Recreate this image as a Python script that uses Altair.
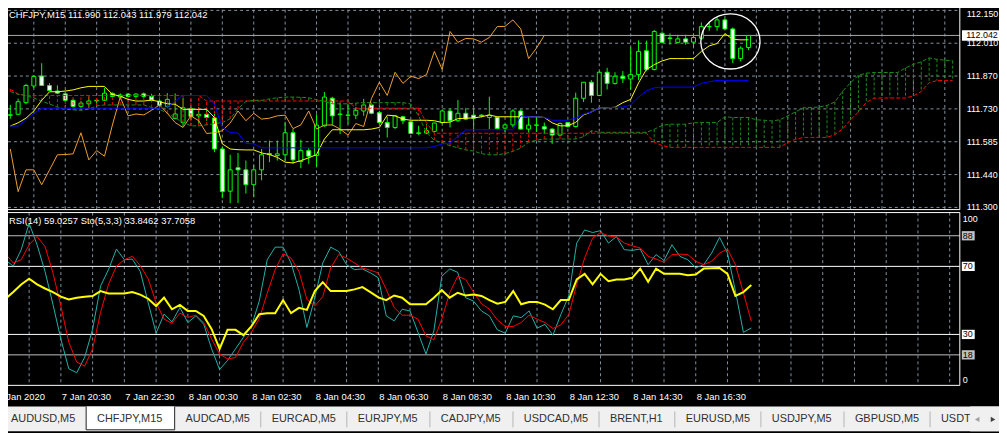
import altair as alt
import pandas as pd

# ------------------------------------------------------------------ data
symbol_title = "CHFJPY,M15"
ohlc_title = "111.990 112.043 111.979 112.042"
osc_title = "RSI(14) 59.0257  Sto(5,3,3) 33.8462 37.7058"

bar_open = [111.697, 111.702, 111.752, 111.824, 111.867, 111.826, 111.802, 111.790, 111.762, 111.736,
            111.747, 111.760, 111.762, 111.792, 111.776, 111.789, 111.779, 111.790, 111.779, 111.759,
            111.736, 111.683, 111.666, 111.726, 111.695, 111.702, 111.686, 111.552, 111.370, 111.471,
            111.462, 111.398, 111.462, 111.532, 111.524, 111.527, 111.622, 111.498, 111.545, 111.524,
            111.652, 111.771, 111.701, 111.697, 111.698, 111.716, 111.742, 111.709, 111.666, 111.645,
            111.691, 111.669, 111.619, 111.621, 111.628, 111.666, 111.716, 111.674, 111.706, 111.698,
            111.698, 111.688, 111.688, 111.642, 111.656, 111.716, 111.638, 111.654, 111.648, 111.638,
            111.612, 111.666, 111.649, 111.771, 111.840, 111.783, 111.883, 111.835, 111.866, 111.854,
            111.873, 111.976, 111.895, 112.051, 112.031, 112.012, 112.027, 112.013, 112.030, 112.079,
            112.080, 112.109, 112.070, 111.942, 111.990]
bar_high = [111.742, 111.769, 111.833, 111.870, 111.922, 111.836, 111.827, 111.799, 111.769, 111.759,
            111.779, 111.769, 111.816, 111.796, 111.792, 111.792, 111.792, 111.796, 111.790, 111.766,
            111.793, 111.792, 111.773, 111.733, 111.733, 111.725, 111.703, 111.562, 111.527, 111.535,
            111.502, 111.484, 111.552, 111.588, 111.588, 111.669, 111.638, 111.592, 111.557, 111.702,
            111.798, 111.777, 111.752, 111.746, 111.733, 111.768, 111.747, 111.716, 111.691, 111.699,
            111.695, 111.674, 111.652, 111.659, 111.666, 111.723, 111.728, 111.763, 111.728, 111.728,
            111.702, 111.777, 111.691, 111.659, 111.723, 111.723, 111.688, 111.688, 111.666, 111.642,
            111.666, 111.669, 111.795, 111.840, 111.849, 111.888, 111.902, 111.883, 111.888, 111.991,
            112.020, 112.019, 112.066, 112.059, 112.051, 112.045, 112.045, 112.051, 112.098, 112.098,
            112.120, 112.116, 112.076, 111.995, 112.043]
bar_low = [111.682, 111.699, 111.745, 111.815, 111.825, 111.802, 111.789, 111.759, 111.730, 111.722,
           111.725, 111.743, 111.759, 111.776, 111.771, 111.776, 111.773, 111.772, 111.762, 111.735,
           111.730, 111.681, 111.648, 111.676, 111.661, 111.674, 111.538, 111.340, 111.318, 111.319,
           111.360, 111.345, 111.417, 111.495, 111.502, 111.502, 111.488, 111.469, 111.488, 111.474,
           111.648, 111.652, 111.616, 111.661, 111.681, 111.695, 111.702, 111.662, 111.602, 111.638,
           111.659, 111.619, 111.612, 111.616, 111.623, 111.659, 111.645, 111.669, 111.676, 111.631,
           111.688, 111.638, 111.638, 111.623, 111.645, 111.635, 111.623, 111.626, 111.616, 111.574,
           111.609, 111.645, 111.645, 111.755, 111.752, 111.780, 111.809, 111.830, 111.837, 111.809,
           111.849, 111.888, 111.891, 112.009, 112.002, 112.009, 112.002, 111.991, 112.023, 112.062,
           112.062, 112.066, 111.923, 111.930, 111.979]
bar_close = [111.700, 111.756, 111.826, 111.865, 111.826, 111.804, 111.793, 111.762, 111.736, 111.750,
             111.759, 111.762, 111.793, 111.779, 111.785, 111.779, 111.789, 111.779, 111.763, 111.741,
             111.766, 111.703, 111.730, 111.692, 111.701, 111.688, 111.552, 111.368, 111.462, 111.462,
             111.398, 111.462, 111.527, 111.528, 111.531, 111.622, 111.505, 111.545, 111.521, 111.655,
             111.776, 111.695, 111.703, 111.699, 111.719, 111.742, 111.706, 111.666, 111.645, 111.695,
             111.674, 111.619, 111.622, 111.631, 111.664, 111.716, 111.674, 111.706, 111.681, 111.685,
             111.695, 111.698, 111.640, 111.656, 111.716, 111.638, 111.655, 111.656, 111.638, 111.612,
             111.662, 111.649, 111.771, 111.840, 111.783, 111.883, 111.835, 111.866, 111.856, 111.873,
             111.973, 111.895, 112.059, 112.012, 112.029, 112.027, 112.013, 112.033, 112.080, 112.081,
             112.109, 112.070, 111.942, 111.987, 112.042]

tenkan = [111.651, 111.665, 111.685, 111.716, 111.762, 111.799, 111.799, 111.802, 111.807, 111.816,
          111.822, 111.822, 111.822, 111.788, 111.780, 111.766, 111.759, 111.759, 111.763, 111.756,
          111.747, 111.745, 111.723, 111.723, 111.723, 111.723, 111.688, 111.574, 111.552, 111.549,
          111.548, 111.548, 111.535, 111.528, 111.516, 111.495, 111.492, 111.502, 111.514, 111.528,
          111.595, 111.635, 111.635, 111.635, 111.635, 111.635, 111.638, 111.645, 111.698, 111.695,
          111.681, 111.676, 111.676, 111.676, 111.674, 111.666, 111.668, 111.683, 111.685, 111.686,
          111.691, 111.699, 111.691, 111.691, 111.691, 111.691, 111.691, 111.691, 111.688, 111.665,
          111.652, 111.652, 111.667, 111.699, 111.712, 111.730, 111.730, 111.732, 111.752, 111.766,
          111.837, 111.895, 111.916, 111.932, 111.942, 111.942, 111.942, 111.942, 111.973, 111.997,
          112.007, 112.050, 112.025, 112.023, 112.023]
kijun = [111.651, 111.651, 111.678, 111.705, 111.728, 111.728, 111.728, 111.728, 111.728, 111.728,
         111.728, 111.728, 111.728, 111.728, 111.728, 111.728, 111.728, 111.728, 111.728, 111.728,
         111.733, 111.759, 111.783, 111.783, 111.783, 111.783, 111.745, 111.645, 111.623, 111.621,
         111.576, 111.574, 111.557, 111.557, 111.557, 111.557, 111.557, 111.557, 111.557, 111.557,
         111.557, 111.557, 111.557, 111.557, 111.557, 111.557, 111.557, 111.557, 111.557, 111.557,
         111.557, 111.557, 111.557, 111.557, 111.563, 111.574, 111.578, 111.606, 111.634, 111.635,
         111.635, 111.635, 111.635, 111.635, 111.635, 111.695, 111.691, 111.691, 111.688, 111.676,
         111.676, 111.676, 111.685, 111.702, 111.712, 111.730, 111.730, 111.732, 111.733, 111.742,
         111.776, 111.802, 111.816, 111.819, 111.819, 111.819, 111.819, 111.819, 111.835, 111.842,
         111.848, 111.848, 111.848, 111.848, 111.848]
span_a = [111.800, 111.788, 111.783, 111.772, 111.759, 111.746, 111.733, 111.724, 111.721, 111.719,
          111.724, 111.738, 111.742, 111.742, 111.742, 111.742, 111.742, 111.742, 111.731, 111.723,
          111.706, 111.686, 111.667, 111.652, 111.652, 111.656, 111.661, 111.666, 111.682, 111.725,
          111.757, 111.762, 111.762, 111.768, 111.773, 111.776, 111.776, 111.775, 111.773, 111.765,
          111.757, 111.747, 111.747, 111.747, 111.750, 111.752, 111.752, 111.752, 111.752, 111.752,
          111.752, 111.746, 111.695, 111.622, 111.590, 111.579, 111.566, 111.557, 111.548, 111.543,
          111.532, 111.527, 111.527, 111.532, 111.542, 111.556, 111.581, 111.590, 111.595, 111.595,
          111.595, 111.595, 111.595, 111.605, 111.631, 111.624, 111.624, 111.624, 111.624, 111.624,
          111.624, 111.624, 111.637, 111.654, 111.659, 111.659, 111.659, 111.665, 111.666, 111.666,
          111.666, 111.691, 111.688, 111.688, 111.688, 111.678, 111.676, 111.673, 111.678, 111.695,
          111.712, 111.730, 111.731, 111.733, 111.740, 111.755, 111.802, 111.838, 111.870, 111.879,
          111.882, 111.882, 111.882, 111.882, 111.902, 111.917, 111.928, 111.945, 111.939, 111.935,
          111.933]
span_b = [111.810, 111.789, 111.783, 111.783, 111.783, 111.783, 111.783, 111.783, 111.783, 111.783,
          111.783, 111.783, 111.783, 111.783, 111.783, 111.783, 111.783, 111.783, 111.783, 111.783,
          111.783, 111.783, 111.783, 111.783, 111.783, 111.759, 111.759, 111.759, 111.759, 111.759,
          111.759, 111.759, 111.759, 111.759, 111.759, 111.759, 111.759, 111.759, 111.759, 111.759,
          111.759, 111.759, 111.759, 111.759, 111.728, 111.728, 111.728, 111.728, 111.728, 111.728,
          111.728, 111.728, 111.728, 111.665, 111.620, 111.620, 111.620, 111.620, 111.620, 111.620,
          111.620, 111.620, 111.620, 111.620, 111.620, 111.620, 111.620, 111.620, 111.620, 111.620,
          111.620, 111.620, 111.620, 111.620, 111.620, 111.620, 111.620, 111.620, 111.620, 111.620,
          111.620, 111.620, 111.581, 111.567, 111.559, 111.559, 111.559, 111.559, 111.559, 111.559,
          111.559, 111.559, 111.559, 111.559, 111.559, 111.559, 111.559, 111.559, 111.559, 111.581,
          111.594, 111.602, 111.602, 111.602, 111.602, 111.614, 111.639, 111.678, 111.712, 111.753,
          111.771, 111.772, 111.772, 111.772, 111.772, 111.781, 111.800, 111.838, 111.847, 111.848,
          111.848]

rsi = [50.8, 54.9, 59.4, 62.7, 59.4, 57.0, 54.9, 52.2, 50.6, 51.6,
       52.2, 52.6, 55.5, 54.1, 54.1, 54.1, 54.9, 53.4, 51.0, 46.7,
       51.6, 44.8, 47.3, 43.8, 43.8, 40.9, 33.1, 21.5, 32.7, 32.7,
       29.6, 34.7, 41.9, 42.5, 42.5, 50.2, 42.5, 45.6, 44.4, 55.5,
       60.7, 55.5, 55.5, 55.5, 56.5, 57.8, 54.9, 51.8, 50.2, 52.9,
       51.6, 47.7, 47.7, 47.7, 51.6, 56.1, 51.6, 54.5, 52.9, 53.4,
       52.6, 50.2, 48.1, 49.1, 55.5, 47.7, 49.1, 49.1, 47.5, 44.8,
       50.2, 50.2, 62.3, 65.6, 59.4, 65.6, 61.3, 62.3, 62.3, 63.3,
       68.7, 60.9, 68.7, 65.6, 65.6, 65.6, 64.8, 65.2, 68.7, 68.9,
       69.1, 65.6, 52.6, 54.9, 59.0]
stoch_k = [73.9, 70.1, 79.8, 95.3, 82.7, 67.1, 47.7, 27.3, 9.8, 7.5,
           16.6, 33.1, 58.4, 68.1, 80.2, 73.9, 74.3, 67.1, 48.7, 30.8,
           41.9, 37.4, 45.8, 37.0, 40.9, 36.0, 21.5, 9.4, 14.7, 21.5,
           28.3, 34.7, 49.6, 73.9, 81.3, 81.3, 72.0, 56.5, 34.1, 51.6,
           72.0, 81.3, 78.8, 71.0, 68.1, 68.5, 66.2, 63.3, 40.9, 38.0,
           44.8, 43.8, 31.2, 18.5, 32.1, 64.2, 68.5, 66.5, 51.6, 49.6,
           43.8, 40.9, 32.7, 30.8, 40.9, 39.9, 43.8, 33.7, 35.9, 29.6,
           41.7, 52.6, 83.7, 91.4, 89.9, 91.0, 83.7, 87.5, 79.8, 79.4,
           80.2, 71.0, 76.9, 73.5, 82.7, 75.9, 73.9, 69.1, 71.0, 77.8,
           87.1, 77.8, 55.5, 31.2, 33.8]
stoch_d = [77.4, 72.0, 73.9, 82.7, 87.5, 81.7, 66.2, 46.7, 25.4, 13.7,
           11.4, 21.5, 42.9, 59.4, 70.1, 73.9, 75.9, 70.5, 62.7, 48.7,
           39.0, 36.6, 42.5, 40.0, 41.3, 37.0, 27.3, 18.5, 15.6, 16.4,
           25.4, 31.2, 39.3, 54.1, 68.1, 77.4, 74.9, 67.1, 50.6, 46.7,
           52.2, 69.1, 76.9, 74.9, 72.0, 69.1, 67.7, 66.2, 56.5, 45.8,
           41.3, 41.3, 39.0, 29.2, 26.9, 39.0, 54.5, 64.2, 62.3, 54.9,
           48.1, 44.8, 38.6, 34.7, 34.7, 37.0, 41.3, 39.0, 37.0, 33.5,
           35.6, 41.7, 59.4, 74.9, 86.6, 89.9, 87.9, 87.2, 83.7, 82.1,
           80.8, 75.9, 74.3, 72.4, 76.9, 77.2, 76.9, 73.0, 71.0, 73.0,
           77.8, 80.2, 71.0, 54.5, 37.7]

chikou_shift = 26
price_tick_values = [112.150, 112.0083, 111.8667, 111.725, 111.5833, 111.4417, 111.300]
price_tick_labels = ["112.150", "112.010", "111.870", "111.730", "111.585", "111.440", "111.300"]
last_price_label = "112.042"
osc_levels_white = [70, 30]
osc_levels_silver = [88, 18]
osc_edge_labels = ["100", "0"]
time_tick_bars = [-1, 7, 15, 23, 31, 39, 47, 55, 63, 71, 79, 87]
time_tick_labels = ["7 Jan 2020", "7 Jan 20:30", "7 Jan 22:30", "8 Jan 00:30", "8 Jan 02:30",
                    "8 Jan 04:30", "8 Jan 06:30", "8 Jan 08:30", "8 Jan 10:30", "8 Jan 12:30",
                    "8 Jan 14:30", "8 Jan 16:30"]
tab_names = ["AUDUSD,M5", "CHFJPY,M15", "AUDCAD,M5", "EURCAD,M5", "EURJPY,M5", "CADJPY,M5",
             "USDCAD,M5", "BRENT,H1", "EURUSD,M5", "USDJPY,M5", "GBPUSD,M5", "USDT"]
active_tab = "CHFJPY,M15"
circle_bar = [91.7]
circle_price = [112.016]

# ------------------------------------------------------------------ layout
OFF = 8            # page margin: reference pixel -> chart pixel
W, H = 999, 425
FONT = "Liberation Sans"
GRID = "#8492a0"
LIME = "#00ff00"
AXFS = 9


def px(v):
    return v - OFF


RIGHT = px(967.5)
MAIN_TOP, MAIN_BOT = px(2), px(209.5)
SUB_TOP, SUB_BOT = px(212.5), px(386.7)

XS = alt.Scale(domain=[0, 120], range=[px(5.3), px(965.3)], zero=False, nice=False)
YP = alt.Scale(domain=[111.3, 112.15], range=[px(207.3), px(8.7)], zero=False, nice=False)
YR = alt.Scale(domain=[0, 100], range=[px(386.8), px(215.3)], zero=False, nice=False)
CX = alt.Scale(domain=[OFF, OFF + W], range=[0, W], zero=False, nice=False)

one = pd.DataFrame({"k": [0]})


def xb(f="bar"):
    return alt.X(f"{f}:Q", scale=XS, axis=None)


def yp(f):
    return alt.Y(f"{f}:Q", scale=YP, axis=None)


def yr(f):
    return alt.Y(f"{f}:Q", scale=YR, axis=None)


def vrule(color, x=None, x2=None, y=None, y2=None, width=1, dash=None):
    kw = dict(color=color, strokeWidth=width)
    if dash:
        kw["strokeDash"] = dash
    enc = {}
    for k, v in (("x", x), ("x2", x2), ("y", y), ("y2", y2)):
        if v is not None:
            enc[k] = alt.value(v)
    return alt.Chart(one).mark_rule(**kw).encode(**enc)


# ------------------------------------------------------------------ tables
n = len(bar_close)
candles = pd.DataFrame({"bar": range(n), "open": bar_open, "high": bar_high,
                        "low": bar_low, "close": bar_close})
candles["dir"] = ["bull" if c >= o else "bear" for o, c in zip(bar_open, bar_close)]
lines = pd.DataFrame({"bar": range(n), "tenkan": tenkan, "kijun": kijun,
                      "rsi": rsi, "k": stoch_k, "d": stoch_d})
chikou = pd.DataFrame({"bar": range(n - chikou_shift), "price": bar_close[chikou_shift:]})
cloud = pd.DataFrame({"bar": range(len(span_a)), "a": span_a, "b": span_b})
cloud_up = cloud[cloud.a >= cloud.b]
cloud_dn = cloud[cloud.a < cloud.b]
grid_bars = pd.DataFrame({"bar": list(range(3, 121, 4))})
pticks = pd.DataFrame({"price": price_tick_values, "label": price_tick_labels})
pticks_top = pticks.iloc[:1]
pticks_rest = pticks.iloc[1:]
last = pd.DataFrame({"price": [bar_close[-1]], "label": [last_price_label]})
circ = pd.DataFrame({"bar": circle_bar, "price": circle_price})
lv_white = pd.DataFrame({"lvl": osc_levels_white, "label": [str(v) for v in osc_levels_white]})
lv_silver = pd.DataFrame({"lvl": osc_levels_silver, "label": [str(v) for v in osc_levels_silver]})
tticks = pd.DataFrame({"bar": time_tick_bars, "label": time_tick_labels})

# tab geometry from text metrics (Arial-like widths / 1000 em)
CW = {"A": 667, "B": 667, "C": 722, "D": 722, "E": 667, "F": 611, "G": 778, "H": 722,
      "J": 500, "M": 833, "N": 722, "P": 667, "R": 722, "S": 667, "T": 611, "U": 722,
      "Y": 667, ",": 278}
TAB_FS = 11
rows, x0 = [], 0.0
for name in tab_names:
    w = sum(CW.get(c, 556) for c in name) * TAB_FS / 1000 + 22
    rows.append({"name": name, "x0": x0, "x1": x0 + w, "tx": x0 + 11})
    x0 += w
tabs = pd.DataFrame(rows)
act = tabs[tabs.name == active_tab]
ai = int(act.index[0])
seps = tabs[(tabs.index > ai)].iloc[:-1]

# ------------------------------------------------------------------ main panel
hgrid = alt.Chart(pticks).mark_rule(color=GRID, strokeDash=[3, 3], strokeWidth=1).encode(
    y=yp("price"), x=alt.value(0), x2=alt.value(RIGHT))
vgrid = alt.Chart(grid_bars).mark_rule(color=GRID, strokeDash=[3, 3], strokeWidth=1).encode(
    x=xb(), y=alt.value(MAIN_TOP), y2=alt.value(MAIN_BOT))
pline = alt.Chart(last).mark_rule(color="#a9a9a9", strokeWidth=1).encode(
    y=yp("price"), x=alt.value(0), x2=alt.value(RIGHT))
wicks = alt.Chart(candles).mark_rule(color=LIME, strokeWidth=1).encode(
    x=xb(), y=yp("low"), y2="high")
bodies = alt.Chart(candles).mark_bar(width=4, stroke=LIME, strokeWidth=1, opacity=1).encode(
    x=xb(), y=yp("open"), y2="close",
    color=alt.Color("dir:N", scale=alt.Scale(domain=["bull", "bear"], range=["#000000", "#ffffff"]),
                    legend=None))
hatch_up = alt.Chart(cloud_up).mark_rule(color="#1c8c1c", strokeDash=[3, 2], strokeWidth=1).encode(
    x=xb(), y=yp("a"), y2="b")
hatch_dn = alt.Chart(cloud_dn).mark_rule(color="#ff0000", strokeDash=[3, 2], strokeWidth=1).encode(
    x=xb(), y=yp("a"), y2="b")
line_b = alt.Chart(cloud).mark_line(color="#ff0000", strokeDash=[4, 2], strokeWidth=1).encode(
    x=xb(), y=yp("b"))
line_a = alt.Chart(cloud).mark_line(color="#1c8c1c", strokeDash=[4, 2], strokeWidth=1).encode(
    x=xb(), y=yp("a"))
chik = alt.Chart(chikou).mark_line(color="#f0a030", strokeWidth=1).encode(x=xb(), y=yp("price"))
tk = alt.Chart(lines).mark_line(color="#ffff00", strokeWidth=1).encode(x=xb(), y=yp("tenkan"))
kj = alt.Chart(lines).mark_line(color="#0000ff", strokeWidth=1).encode(x=xb(), y=yp("kijun"))
ellipse = alt.Chart(circ).mark_point(
    shape="M-1,0A1,0.93,0,1,1,1,0A1,0.93,0,1,1,-1,0Z", size=3564, filled=False,
    color="#ffffff", strokeWidth=1.3, opacity=1).encode(x=xb(), y=yp("price"))
plabels = alt.Chart(pticks_rest).mark_text(align="left", baseline="middle", color="#ffffff",
                                           font=FONT, fontSize=AXFS).encode(
    x=alt.value(px(974.5)), y=yp("price"), text="label:N")
plabel_top = alt.Chart(pticks_top).mark_text(align="left", baseline="top", color="#ffffff",
                                             font=FONT, fontSize=AXFS, dy=-0.5).encode(
    x=alt.value(px(974.5)), y=yp("price"), text="label:N")
pbox = alt.Chart(last).mark_point(shape="M-1,-0.28H1V0.28H-1Z", size=1420, filled=True,
                                  color="#ffffff", opacity=1, strokeWidth=0).encode(
    x=alt.value(px(988.5)), y=yp("price"))
ptext = alt.Chart(last).mark_text(align="left", baseline="middle", color="#000000",
                                  font=FONT, fontSize=AXFS).encode(
    x=alt.value(px(974)), y=yp("price"), text="label:N")
header = alt.Chart(pd.DataFrame({"t": [symbol_title + "  " + ohlc_title]})).mark_text(
    align="left", baseline="middle", color="#ffffff", font=FONT, fontSize=9.5).encode(
    x=alt.value(1), y=alt.value(5), text="t:N")

main = alt.layer(
    hgrid, vgrid, pline, wicks, bodies, hatch_dn, hatch_up, line_b, line_a, chik, tk, kj,
    ellipse,
    vrule("#ffffff", x=RIGHT, y=MAIN_TOP, y2=MAIN_BOT),
    vrule("#ffffff", x=0, x2=RIGHT, y=MAIN_BOT),
    plabels, plabel_top, pbox, ptext, header)

# ------------------------------------------------------------------ oscillator panel
vgrid2 = alt.Chart(grid_bars).mark_rule(color=GRID, strokeDash=[3, 3], strokeWidth=1).encode(
    x=xb(), y=alt.value(SUB_TOP), y2=alt.value(SUB_BOT))
lvl_s = alt.Chart(lv_silver).mark_rule(color="#c0c0c0", strokeWidth=1).encode(
    y=yr("lvl"), x=alt.value(0), x2=alt.value(RIGHT))
lvl_w = alt.Chart(lv_white).mark_rule(color="#ffffff", strokeWidth=1).encode(
    y=yr("lvl"), x=alt.value(0), x2=alt.value(RIGHT))
k_line = alt.Chart(lines).mark_line(color="#20b2aa", strokeWidth=1).encode(x=xb(), y=yr("k"))
d_line = alt.Chart(lines).mark_line(color="#ff0000", strokeWidth=1).encode(x=xb(), y=yr("d"))
rsi_line = alt.Chart(lines).mark_line(color="#ffff00", strokeWidth=2).encode(x=xb(), y=yr("rsi"))
BOX = "M-1,-0.72H1V0.72H-1Z"
box_s = alt.Chart(lv_silver).mark_point(shape=BOX, size=169, filled=True, color="#c0c0c0",
                                        opacity=1, strokeWidth=0).encode(
    x=alt.value(px(976)), y=yr("lvl"))
box_w = alt.Chart(lv_white).mark_point(shape=BOX, size=169, filled=True, color="#ffffff",
                                       opacity=1, strokeWidth=0).encode(
    x=alt.value(px(976)), y=yr("lvl"))
lvl_txt = alt.Chart(pd.concat([lv_silver, lv_white])).mark_text(
    align="left", baseline="middle", color="#000000", font=FONT, fontSize=AXFS).encode(
    x=alt.value(px(970.5)), y=yr("lvl"), text="label:N")
top_txt = alt.Chart(pd.DataFrame({"lvl": [100], "label": [osc_edge_labels[0]]})).mark_text(
    align="left", baseline="middle", color="#ffffff", font=FONT, fontSize=AXFS, dy=4).encode(
    x=alt.value(px(970.5)), y=yr("lvl"), text="label:N")
bot_txt = alt.Chart(pd.DataFrame({"lvl": [0], "label": [osc_edge_labels[1]]})).mark_text(
    align="left", baseline="middle", color="#ffffff", font=FONT, fontSize=AXFS, dy=-5.5).encode(
    x=alt.value(px(970.5)), y=yr("lvl"), text="label:N")
sub_header = alt.Chart(pd.DataFrame({"t": [osc_title]})).mark_text(
    align="left", baseline="middle", color="#ffffff", font=FONT, fontSize=9.5).encode(
    x=alt.value(1), y=alt.value(px(221.5)), text="t:N")
time_txt = alt.Chart(tticks).mark_text(align="left", baseline="middle", color="#ffffff",
                                       font=FONT, fontSize=9.5, dx=1).encode(
    x=xb(), y=alt.value(px(398)), text="label:N")

sub = alt.layer(
    vgrid2, lvl_s, lvl_w, k_line, d_line, rsi_line,
    vrule("#ffffff", x=0, x2=RIGHT, y=SUB_TOP),
    vrule("#ffffff", x=0, x2=RIGHT, y=SUB_BOT),
    vrule("#ffffff", x=RIGHT, y=SUB_TOP, y2=SUB_BOT),
    box_s, box_w, lvl_txt, top_txt, bot_txt, sub_header, time_txt)

# ------------------------------------------------------------------ tab bar
TAB_TOP, TAB_BOT = px(408), H
tab_bg = alt.Chart(one).mark_rect(color="#f0f0f0").encode(
    x=alt.value(0), x2=alt.value(W), y=alt.value(TAB_TOP), y2=alt.value(TAB_BOT))
act_rect = alt.Chart(act).mark_rect(color="#ffffff").encode(
    x=alt.X("x0:Q", scale=CX, axis=None), x2="x1",
    y=alt.value(TAB_TOP), y2=alt.value(px(431.5)))
act_l = alt.Chart(act).mark_rule(color="#202020").encode(
    x=alt.X("x0:Q", scale=CX, axis=None), y=alt.value(TAB_TOP), y2=alt.value(px(431.5)))
act_r = alt.Chart(act).mark_rule(color="#202020").encode(
    x=alt.X("x1:Q", scale=CX, axis=None), y=alt.value(TAB_TOP), y2=alt.value(px(431.5)))
act_b = alt.Chart(act).mark_rule(color="#202020").encode(
    x=alt.X("x0:Q", scale=CX, axis=None), x2="x1", y=alt.value(px(431.5)))
sep = alt.Chart(seps).mark_rule(color="#b4b4b4").encode(
    x=alt.X("x1:Q", scale=CX, axis=None), y=alt.value(px(413)), y2=alt.value(px(429)))
tab_txt = alt.Chart(tabs).mark_text(align="left", baseline="middle", color="#303030",
                                    font=FONT, fontSize=TAB_FS).encode(
    x=alt.X("tx:Q", scale=CX, axis=None), y=alt.value(px(421)), text="name:N")
arrow_bg = alt.Chart(one).mark_rect(color="#f0f0f0").encode(
    x=alt.value(px(978)), x2=alt.value(W), y=alt.value(TAB_TOP), y2=alt.value(TAB_BOT))
arr_l = alt.Chart(one).mark_point(shape="triangle-left", size=28, filled=True, color="#a0a0a0",
                                  opacity=1).encode(x=alt.value(px(985)), y=alt.value(px(421)))
arr_r = alt.Chart(one).mark_point(shape="triangle-right", size=28, filled=True, color="#404040",
                                  opacity=1).encode(x=alt.value(px(1001)), y=alt.value(px(421)))

chrome = alt.layer(tab_bg, act_rect, act_l, act_r, act_b, sep, tab_txt, arrow_bg, arr_l, arr_r)

chart = alt.layer(main, sub, chrome).resolve_scale(
    x="independent", y="independent", color="independent"
).properties(
    width=W, height=H, autosize=alt.AutoSizeParams(type="none"), padding=0,
    background="#000000"
).configure_view(strokeWidth=0)

chart.save("out.html", embed_options={"renderer": "svg", "actions": False})
